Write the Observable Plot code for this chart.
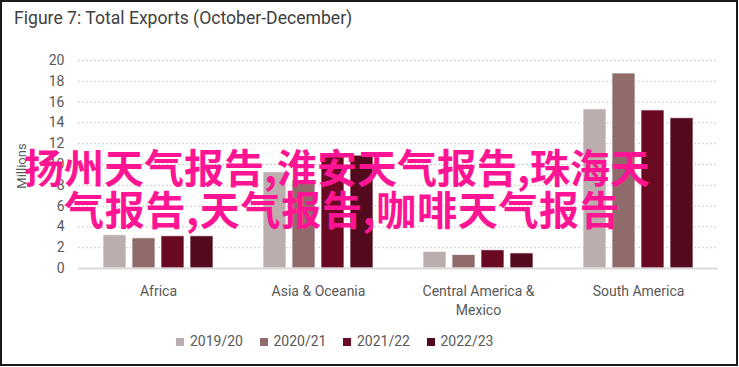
<!DOCTYPE html>
<html>
<head>
<meta charset="utf-8">
<script src="https://cdn.jsdelivr.net/npm/d3@7"></script>
<script src="https://cdn.jsdelivr.net/npm/@observablehq/plot@0.6"></script>
<style>
  html, body { margin: 0; padding: 0; background: #fff; }
  body { width: 739px; height: 367px; position: relative; overflow: hidden;
         font-family: "Liberation Sans Narrow", "Roboto", sans-serif; }
  #frame { position: absolute; left: 0; top: 0; width: 738px; height: 366px;
           box-sizing: border-box; border: 2px solid #1a1a1a; }
  #title { position: absolute; left: 14px; top: 8px; font-size: 17.6px; color: #404040; white-space: nowrap; }
  #chart { position: absolute; left: 0; top: 0; }
  #ylabel { position: absolute; left: 21px; top: 166px; transform: translate(-50%, -50%) rotate(-90deg);
            font-size: 13px; color: #595959; white-space: nowrap; }
  #legend { position: absolute; left: 176px; top: 333px; display: flex; align-items: center; gap: 16.5px;
            font-size: 14px; color: #595959; white-space: nowrap; }
  #legend .item { display: flex; align-items: center; }
  #legend .sw { width: 8px; height: 8px; margin-right: 6px; margin-top: 2px; }
  .pink { position: absolute; font-family: "Noto Sans CJK SC", sans-serif; font-weight: 700;
          font-size: 40px; line-height: 40px; color: #ff1493; white-space: nowrap; }
</style>
</head>
<body>
<div id="frame"></div>
<div id="title">Figure 7: Total Exports (October-December)</div>
<div id="chart"></div>
<div id="ylabel">Millions</div>
<div id="legend"></div>
<div class="pink" id="pink1" style="left:24px; top:146px;"></div>
<div class="pink" id="pink2" style="left:64px; top:188px; letter-spacing: 0.7px;"></div>
<script>
const regions = ["Africa", "Asia & Oceania", "Central America & Mexico", "South America"];
const years = ["2019/20", "2020/21", "2021/22", "2022/23"];
const colors = ["#bcaeae", "#8f6b6c", "#6a0a22", "#540a1e"];
const v2019 = [3.2, 9.25, 1.6, 15.3];
const v2020 = [2.9, 8.45, 1.3, 18.75];
const v2021 = [3.1, 10.75, 1.75, 15.2];
const v2022 = [3.1, 10.85, 1.45, 14.45];
const yTicks = [0, 2, 4, 6, 8, 10, 12, 14, 16, 18, 20];
const overlayLines = ["扬州天气报告,淮安天气报告,珠海天", "气报告,天气报告,咖啡天气报告"];

const series = [v2019, v2020, v2021, v2022];
const data = [];
regions.forEach((r, i) => years.forEach((y, j) => data.push({region: r, year: y, value: series[j][i]})));

const font = '"Liberation Sans Narrow", "Roboto", sans-serif';
const chart = Plot.plot({
  width: 739,
  height: 320,
  marginLeft: 78,
  marginRight: 21,
  marginTop: 60,
  marginBottom: 52,
  style: {fontFamily: font, fontSize: "14px", color: "#595959", background: "transparent", overflow: "visible"},
  fx: {domain: regions, padding: 0, label: null},
  x: {domain: years, paddingInner: 0.207, paddingOuter: 0.862, axis: null},
  y: {domain: [0, 20], axis: null},
  color: {domain: years, range: colors},
  marks: [
    Plot.gridY(yTicks.filter(d => d > 0), {stroke: "#cccccc", strokeOpacity: 1, strokeDasharray: "2,2"}),
    Plot.barY(data, {fx: "region", x: "year", y: "value", fill: "year", stroke: "#ffffff", strokeWidth: 1, strokeOpacity: 0.7}),
    Plot.ruleY([0], {stroke: "#d9d9d9", strokeWidth: 2}),
    Plot.axisY(yTicks, {anchor: "left", tickSize: 0, tickPadding: 14, label: null, fontSize: 14}),
    Plot.axisFx({anchor: "bottom", tickSize: 0, tickPadding: 15, label: null, fontSize: 14, lineHeight: 1.3,
      tickFormat: d => d === "Central America & Mexico" ? "Central America &\nMexico" : d})
  ]
});
document.getElementById("chart").appendChild(chart);

const legend = document.getElementById("legend");
years.forEach((y, i) => {
  const item = document.createElement("div");
  item.className = "item";
  const sw = document.createElement("div");
  sw.className = "sw";
  sw.style.background = colors[i];
  const t = document.createElement("span");
  t.textContent = y;
  item.appendChild(sw);
  item.appendChild(t);
  legend.appendChild(item);
});
document.getElementById("pink1").textContent = overlayLines[0];
document.getElementById("pink2").textContent = overlayLines[1];
</script>
</body>
</html>
